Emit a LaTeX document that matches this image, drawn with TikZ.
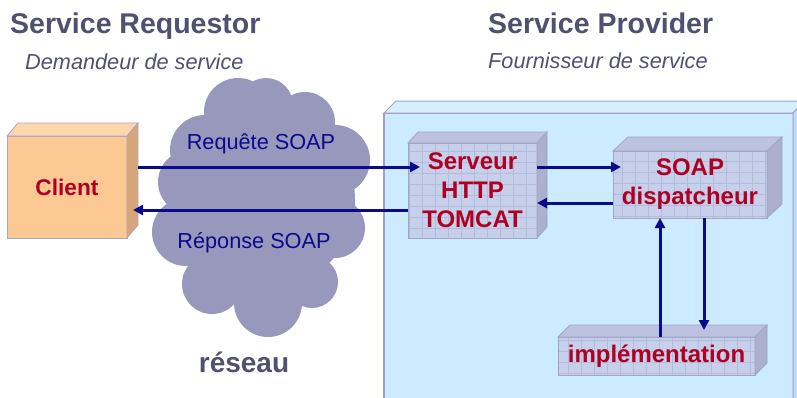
\documentclass[tikz,border=0pt]{standalone}
\usepackage{fontspec}
\setmainfont{Liberation Sans}
\usetikzlibrary{calc,arrows.meta}

\definecolor{titlegray}{RGB}{80,80,112}
\definecolor{navy}{RGB}{10,10,140}
\definecolor{boxred}{RGB}{175,0,35}
\definecolor{cloudcol}{RGB}{152,152,188}
\definecolor{provfront}{RGB}{204,235,255}
\definecolor{provtop}{RGB}{214,239,255}
\definecolor{provside}{RGB}{190,220,245}
\definecolor{provedge}{RGB}{160,160,200}
\definecolor{clifront}{RGB}{252,200,148}
\definecolor{clitop}{RGB}{253,215,172}
\definecolor{cliside}{RGB}{214,166,122}
\definecolor{cliedge}{RGB}{175,165,195}
\definecolor{gfront}{RGB}{198,208,234}
\definecolor{gtop}{RGB}{188,194,224}
\definecolor{gside}{RGB}{170,176,206}
\definecolor{gline}{RGB}{180,188,220}
\definecolor{gedge}{RGB}{160,164,200}

\newcommand{\cubefaces}[5]{% node, depth x, depth y, top colour, side colour
  \filldraw[fill=#4, draw=gedge, line width=0.8pt]
    (#1.north west) -- ++(#2,-#3) -- ($(#1.north east)+(#2,-#3)$) -- (#1.north east) -- cycle;
  \filldraw[fill=#5, draw=gedge, line width=0.8pt]
    (#1.north east) -- ++(#2,-#3) -- ($(#1.south east)+(#2,-#3)$) -- (#1.south east) -- cycle;
}

\begin{document}
\begin{tikzpicture}[x=1pt,y=-1pt,
  title/.style={anchor=base west, text=titlegray, inner sep=0pt,
    font=\fontsize{28.5}{32}\selectfont\bfseries},
  subtitle/.style={anchor=base west, text=titlegray, inner sep=0pt,
    font=\fontsize{21.7}{26}\selectfont\itshape},
  msglabel/.style={anchor=base, text=navy, inner sep=0pt,
    font=\fontsize{21.7}{25}\selectfont},
  gridbox/.style={draw=gedge, fill=gfront, line width=0.8pt, inner sep=0pt, outer sep=0pt,
    align=center, text=boxred, font=\fontsize{24}{29}\selectfont\bfseries,
    path picture={\draw[gline, line width=0.4pt]
      (path picture bounding box.south west) grid[xstep=13pt, ystep=11pt]
      (path picture bounding box.north east);}},
  arr/.style={draw=navy, line width=3pt, -{Triangle[length=10pt,width=10pt]}}
]
\useasboundingbox (0,0) rectangle (797,397);

% titles
\node[title] (reqtitle) at (10,33) {Service Requestor};
\node[subtitle] (reqsub) at (25,69) {Demandeur de service};
\node[title] (provtitle) at (488,33) {Service Provider};
\node[subtitle] (provsub) at (488,68) {Fournisseur de service};

% provider area
\node[draw=provedge, fill=provfront, line width=1pt, minimum width=409pt, minimum height=290pt,
  inner sep=0pt, outer sep=0pt] (prov) at (588.5,258) {};
\draw[provedge, line width=2.5pt] (prov.north west) -- (prov.south west);
\filldraw[fill=provtop, draw=provedge, line width=1pt]
  (prov.north west) -- ++(12,-12) -- ($(prov.north east)+(12,-12)$) -- (prov.north east) -- cycle;
\filldraw[fill=provside, draw=provedge, line width=1pt]
  (prov.north east) -- ++(12,-12) -- ($(prov.south east)+(12,-12)$) -- (prov.south east) -- cycle;

% network cloud
\fill[cloudcol]
  (265,200) circle (90)
  (205,150) circle (35)
  (238,112) circle (34)
  (266,105) circle (27)
  (305,122) circle (30)
  (335,160) circle (35)
  (335,228) circle (30)
  (312,282) circle (26)
  (268,303) circle (34)
  (212,284) circle (30)
  (186,232) circle (34)
  (190,182) circle (32);
\node[anchor=base, text=titlegray, inner sep=0pt,
  font=\fontsize{28}{32}\selectfont\bfseries] (reseau) at (244,372) {réseau};

% client
\node[draw=cliedge, fill=clifront, line width=0.8pt, minimum width=120pt, minimum height=102pt,
  inner sep=0pt, outer sep=0pt, text=boxred, font=\fontsize{22.7}{27}\selectfont\bfseries]
  (client) at (67,187) {Client};
\filldraw[fill=clitop, draw=cliedge, line width=0.8pt]
  (client.north west) -- ++(11,-13) -- ($(client.north east)+(11,-13)$) -- (client.north east) -- cycle;
\filldraw[fill=cliside, draw=cliedge, line width=0.8pt]
  (client.north east) -- ++(11,-13) -- ($(client.south east)+(11,-13)$) -- (client.south east) -- cycle;

% server components
\node[gridbox, minimum width=129pt, minimum height=95pt] (srv) at (472.5,190.5)
  {Serveur\\HTTP\\TOMCAT};
\cubefaces{srv}{10}{11}{gtop}{gside}
\node[gridbox, minimum width=154pt, minimum height=67pt] (disp) at (690,184.5)
  {SOAP\\dispatcheur};
\cubefaces{disp}{15}{14}{gtop}{gside}
\node[gridbox, minimum width=197pt, minimum height=38pt] (impl) at (656.5,356)
  {implémentation};
\cubefaces{impl}{12}{12}{gtop}{gside}

% messages
\coordinate (reqA) at ([xshift=11pt,yshift=20pt]client.east);
\draw[arr, shorten >=-12pt] (reqA) -- (srv.west |- reqA);
\coordinate (respB) at ([xshift=6pt,yshift=-23pt]client.east);
\draw[arr] (srv.west |- respB) -- (respB);
\coordinate (sdA) at ([yshift=23.5pt]srv.east);
\draw[arr, shorten >=-8pt] (sdA) -- (disp.west |- sdA);
\coordinate (dsA) at ([yshift=-18.5pt]disp.west);
\draw[arr] (dsA) -- (srv.east |- dsA);
\coordinate (upA) at ([xshift=3.5pt]impl.north);
\draw[arr] (upA) -- (upA |- disp.south);
\coordinate (dnA) at ([xshift=14pt]disp.south);
\draw[arr, shorten >=7pt] (dnA) -- (dnA |- impl.north);

\node[msglabel] (reqlabel) at (261,149) {Requête SOAP};
\node[msglabel] (resplabel) at (254,248) {Réponse SOAP};
\end{tikzpicture}
\end{document}
